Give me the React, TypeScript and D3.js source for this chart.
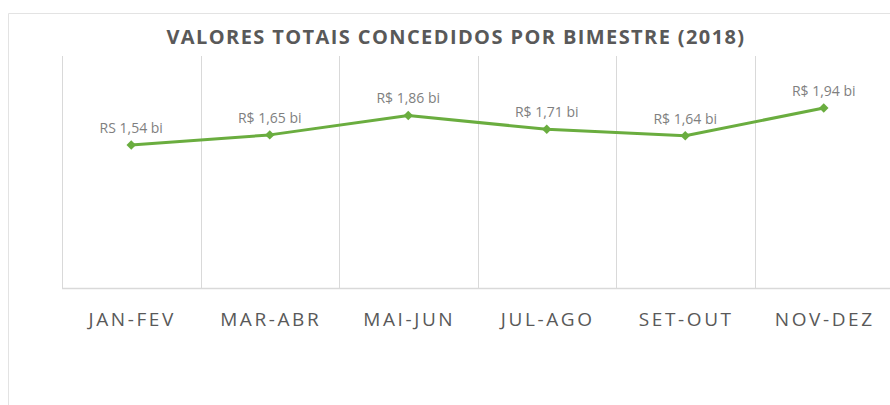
import React, { useEffect, useRef } from 'react';
import * as d3 from 'd3';

const categories = ["JAN-FEV", "MAR-ABR", "MAI-JUN", "JUL-AGO", "SET-OUT", "NOV-DEZ"];
const values = [1.54, 1.65, 1.86, 1.71, 1.64, 1.94];
const valueLabels = ["RS 1,54 bi", "R$ 1,65 bi", "R$ 1,86 bi", "R$ 1,71 bi", "R$ 1,64 bi", "R$ 1,94 bi"];
const yDomain = [0, 2.5];

const width = 890;
const height = 405;

export default function App() {
    const ref = useRef<SVGSVGElement>(null);

    useEffect(() => {
        const svg = d3.select(ref.current);
        svg.selectAll("*").remove();

        const margin = { top: 56, left: 62, bottom: 117, right: -3 };
        const font = "'Open Sans', 'Liberation Sans', sans-serif";

        // chart frame (only left and top edges visible)
        svg.append("path")
            .attr("d", `M8.5,${height} V13.5 H${width}`)
            .attr("fill", "none")
            .attr("stroke", "#e3e3e3");

        svg.append("text")
            .attr("x", 456)
            .attr("y", 44)
            .attr("text-anchor", "middle")
            .attr("font-family", font)
            .attr("font-weight", "bold")
            .attr("font-size", 20)
            .attr("letter-spacing", 1.4)
            .attr("fill", "#595959")
            .text("VALORES TOTAIS CONCEDIDOS POR BIMESTRE (2018)");

        const x = d3.scaleBand()
            .domain(categories)
            .range([margin.left, width - margin.right]);

        const y = d3.scaleLinear()
            .domain(yDomain)
            .range([height - margin.bottom, margin.top]);

        // vertical gridlines at category boundaries
        const bounds = categories.map(c => x(c) as number);
        svg.append("g")
            .selectAll("line")
            .data(bounds)
            .join("line")
            .attr("x1", d => Math.round(d) + 0.5)
            .attr("x2", d => Math.round(d) + 0.5)
            .attr("y1", y(yDomain[1]))
            .attr("y2", y(0))
            .attr("stroke", "#d9d9d9");

        // baseline
        svg.append("line")
            .attr("x1", margin.left)
            .attr("x2", width)
            .attr("y1", Math.round(y(0)) + 0.5)
            .attr("y2", Math.round(y(0)) + 0.5)
            .attr("stroke", "#d9d9d9")
            .attr("stroke-width", 1.5);

        // category labels
        svg.append("g")
            .selectAll("text")
            .data(categories)
            .join("text")
            .attr("x", d => (x(d) as number) + x.bandwidth() / 2 + 1)
            .attr("y", 326)
            .attr("text-anchor", "middle")
            .attr("font-family", font)
            .attr("font-size", 19)
            .attr("letter-spacing", 2.6)
            .attr("fill", "#595959")
            .text(d => d);

        const cx = (i: number) => (x(categories[i]) as number) + x.bandwidth() / 2;

        const line = d3.line<number>()
            .x((d, i) => cx(i))
            .y(d => y(d));

        svg.append("path")
            .datum(values)
            .attr("d", line)
            .attr("fill", "none")
            .attr("stroke", "#6aad3f")
            .attr("stroke-width", 3)
            .attr("stroke-linejoin", "round");

        svg.append("g")
            .selectAll("path")
            .data(values)
            .join("path")
            .attr("d", d3.symbol().type(d3.symbolSquare).size(45))
            .attr("transform", (d, i) => `translate(${cx(i)},${y(d)}) rotate(45)`)
            .attr("fill", "#6aad3f");

        svg.append("g")
            .selectAll("text")
            .data(values)
            .join("text")
            .attr("x", (d, i) => cx(i))
            .attr("y", d => y(d) - 12)
            .attr("text-anchor", "middle")
            .attr("font-family", font)
            .attr("font-size", 14)
            .attr("fill", "#7f7f7f")
            .text((d, i) => valueLabels[i]);
    }, []);

    return (
        <svg ref={ref} width={width} height={height}
            style={{ position: "absolute", left: 0, top: 0, background: "#fff" }} />
    );
}
